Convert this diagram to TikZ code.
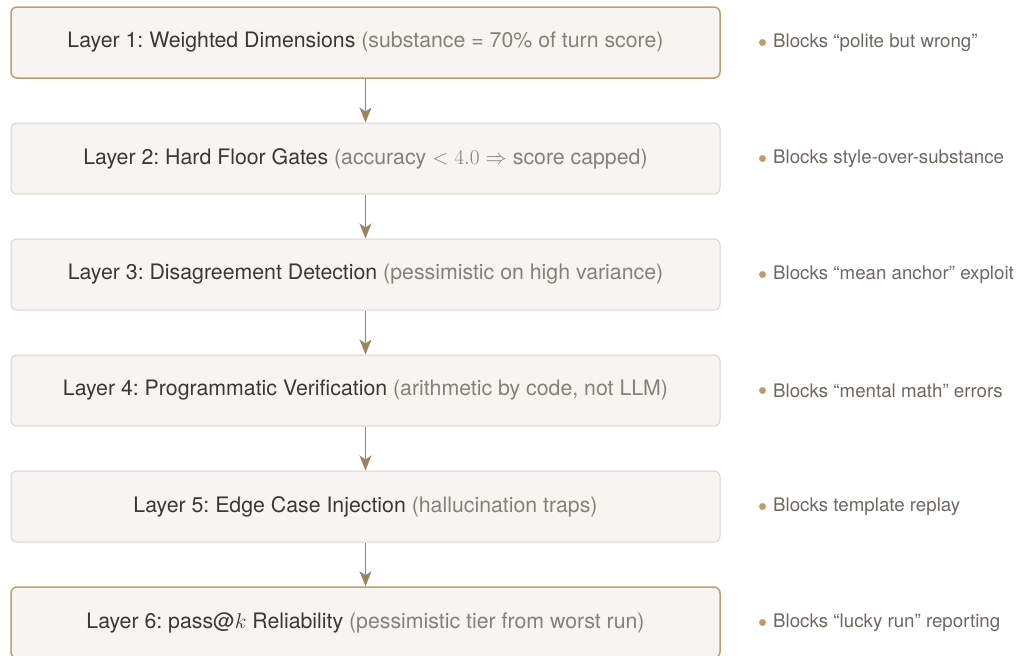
\RequirePackage{fix-cm}
\documentclass[tikz,border=0pt]{standalone}
\usepackage{fontspec}
\setmainfont{TeX Gyre Heros}
\usetikzlibrary{arrows.meta}
\definecolor{boxfill}{HTML}{F7F5F1}
\definecolor{boxline}{HTML}{D9D5CD}
\definecolor{hiline}{HTML}{C29C6C}
\definecolor{arrowc}{HTML}{9C8462}
\definecolor{maintext}{HTML}{3A3835}
\definecolor{subtext}{HTML}{85807A}
\definecolor{bultext}{HTML}{6E675F}
\definecolor{dotc}{HTML}{C49A6C}
\tikzset{
  layer/.style={draw=boxline, line width=1pt, fill=boxfill, rounded corners=6pt,
    minimum width=709pt, minimum height=71pt, inner sep=0pt,
    text=maintext, font=\fontsize{21.3}{25}\selectfont\frenchspacing, anchor=center},
  keylayer/.style={layer, draw=hiline, line width=1.5pt},
  flow/.style={draw=arrowc, line width=1.6pt, -{Stealth[length=15pt,width=12pt,inset=4pt]}},
  bullet/.style={anchor=west, text=bultext, font=\fontsize{18.7}{22}\selectfont\frenchspacing, inner sep=0pt},
  dot/.style={circle, fill=dotc, inner sep=0pt, minimum size=7pt}
}
\newcommand{\sub}[1]{{\color{subtext}#1}}
\begin{document}
\begin{tikzpicture}[x=1pt,y=-1pt]
\useasboundingbox (0,0) rectangle (1018,656);
\node[keylayer] (l1) at (365.5,42.5) {Layer 1: Weighted Dimensions \sub{(substance = 70\% of turn score)}};
\node[layer] (l2) at (365.5,158.5) {Layer 2: Hard Floor Gates \sub{(accuracy $<4.0\Rightarrow$ score capped)}};
\node[layer] (l3) at (365.5,274.5) {Layer 3: Disagreement Detection \sub{(pessimistic on high variance)}};
\node[layer] (l4) at (365.5,390.5) {Layer 4: Programmatic Verification \sub{(arithmetic by code, not LLM)}};
\node[layer] (l5) at (365.5,506.5) {Layer 5: Edge Case Injection \sub{(hallucination traps)}};
\node[keylayer] (l6) at (365.5,622.5) {Layer 6: pass@$k$ Reliability \sub{(pessimistic tier from worst run)}};
\foreach \a/\b in {l1/l2,l2/l3,l3/l4,l4/l5,l5/l6}
  \draw[flow] (\a.south) -- (\b.north);
\foreach \n/\t in {l1/{Blocks “polite but wrong”},
                   l2/{Blocks style-over-substance},
                   l3/{Blocks “mean anchor” exploit},
                   l4/{Blocks “mental math” errors},
                   l5/{Blocks template replay},
                   l6/{Blocks “lucky run” reporting}}{
  \node[dot] (d\n) at (762.5,0 |- \n.center) {};
  \node[bullet] (b\n) at (773,0 |- \n.center) {\t};
}
\end{tikzpicture}
\end{document}
